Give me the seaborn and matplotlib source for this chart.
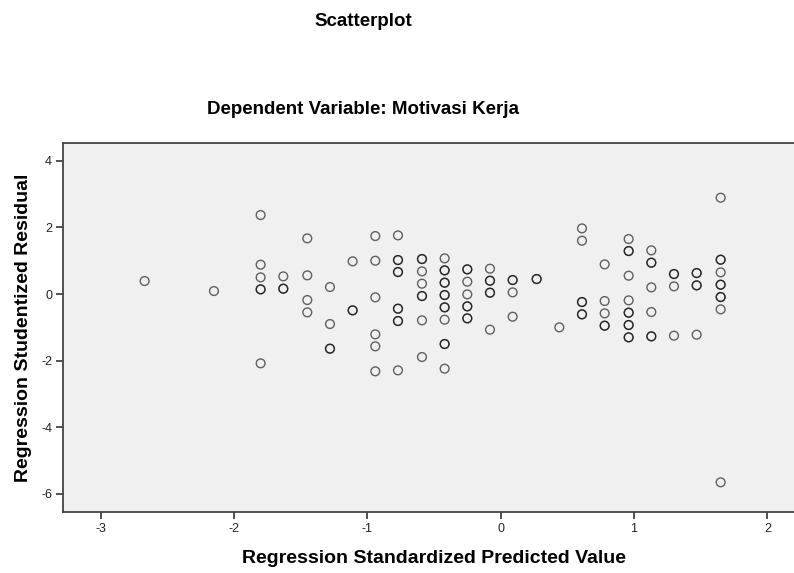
import matplotlib
matplotlib.use("Agg")
import matplotlib.pyplot as plt
import seaborn as sns
import pandas as pd

# Regression standardized predicted value (x) and studentized residual (y)
# repeated entries = overlapping cases (darker markers in the reference)
x_pred = [
    -2.67,
    -2.15,
    -1.80, -1.80, -1.80, -1.80, -1.80, -1.80,
    -1.63, -1.63, -1.63,
    -1.45, -1.45, -1.45, -1.45,
    -1.28, -1.28, -1.28, -1.28,
    -1.11, -1.11, -1.11,
    -0.94, -0.94, -0.94, -0.94, -0.94, -0.94,
    -0.77, -0.77, -0.77, -0.77, -0.77, -0.77, -0.77, -0.77, -0.77, -0.77,
    -0.59, -0.59, -0.59, -0.59, -0.59, -0.59, -0.59, -0.59,
    -0.42, -0.42, -0.42, -0.42, -0.42, -0.42, -0.42, -0.42, -0.42, -0.42, -0.42, -0.42, -0.42,
    -0.25, -0.25, -0.25, -0.25, -0.25, -0.25, -0.25, -0.25,
    -0.08, -0.08, -0.08, -0.08, -0.08, -0.08,
    0.09, 0.09, 0.09, 0.09,
    0.27, 0.27,
    0.44,
    0.61, 0.61, 0.61, 0.61, 0.61, 0.61,
    0.78, 0.78, 0.78, 0.78, 0.78,
    0.96, 0.96, 0.96, 0.96, 0.96, 0.96, 0.96, 0.96, 0.96, 0.96, 0.96,
    1.13, 1.13, 1.13, 1.13, 1.13, 1.13, 1.13,
    1.30, 1.30, 1.30, 1.30,
    1.47, 1.47, 1.47, 1.47, 1.47,
    1.65, 1.65, 1.65, 1.65, 1.65, 1.65, 1.65, 1.65, 1.65, 1.65,
]
y_resid = [
    0.39,
    0.09,
    2.37, 0.88, 0.50, 0.14, 0.14, -2.08,
    0.53, 0.16, 0.16,
    1.67, 0.56, -0.18, -0.55,
    0.21, -0.90, -1.64, -1.64,
    0.98, -0.49, -0.49,
    1.74, 1.00, -0.10, -1.21, -1.57, -2.32,
    1.76, 1.02, 1.02, 0.66, 0.66, -0.44, -0.44, -0.81, -0.81, -2.29,
    1.05, 1.05, 0.68, 0.31, -0.06, -0.06, -0.79, -1.89,
    1.07, 0.71, 0.71, 0.34, 0.34, -0.03, -0.03, -0.40, -0.40, -0.77, -1.50, -1.50, -2.24,
    0.74, 0.74, 0.37, -0.01, -0.37, -0.37, -0.73, -0.73,
    0.76, 0.40, 0.40, 0.04, 0.04, -1.07,
    0.42, 0.42, 0.05, -0.68,
    0.45, 0.45,
    -1.00,
    1.97, 1.60, -0.24, -0.24, -0.61, -0.61,
    0.89, -0.21, -0.58, -0.95, -0.95,
    1.65, 1.29, 1.29, 0.55, -0.19, -0.56, -0.56, -0.93, -0.93, -1.30, -1.30,
    1.31, 0.94, 0.94, 0.20, -0.54, -1.27, -1.27,
    0.60, 0.60, 0.23, -1.25,
    0.63, 0.63, 0.26, 0.26, -1.22,
    2.89, 1.03, 1.03, 0.65, 0.28, 0.28, -0.09, -0.09, -0.46, -5.65,
]

x_ticks = [-3, -2, -1, 0, 1, 2]
y_ticks = [-6, -4, -2, 0, 2, 4]

main_title = "Scatterplot"
sub_title = "Dependent Variable: Motivasi Kerja"
x_label = "Regression Standardized Predicted Value"
y_label = "Regression Studentized Residual"

df = pd.DataFrame({"x": x_pred, "y": y_resid})

sns.set_theme(style="ticks")
plt.rcParams["font.family"] = ["Liberation Sans", "DejaVu Sans"]

fig = plt.figure(figsize=(7.94, 5.73), dpi=100)
ax = fig.add_axes([0.0797, 0.1065, 0.9203, 0.6444])
ax.set_facecolor("#f0f0f0")

sns.scatterplot(data=df, x="x", y="y", ax=ax, marker="o", s=40,
                facecolor="none", edgecolor=(0, 0, 0, 0.6), linewidth=1.0,
                legend=False)

ax.set_xlim(-3.28, 2.2)
ax.set_ylim(-6.54, 4.54)
ax.set_xticks(x_ticks)
ax.set_yticks(y_ticks)
ax.set_xticklabels([str(t) for t in x_ticks])
ax.set_yticklabels([str(t) for t in y_ticks])
ax.tick_params(axis="both", direction="out", length=5, width=1.2,
               color="#333333", labelsize=9, labelcolor="#222222", pad=3)

for side in ["left", "bottom", "top"]:
    ax.spines[side].set_color("#444444")
    ax.spines[side].set_linewidth(1.3)
ax.spines["right"].set_visible(False)

ax.set_xlabel(x_label, fontsize=14, fontweight="bold", color="black")
ax.set_ylabel(y_label, fontsize=14, fontweight="bold", color="black")
ax.xaxis.set_label_coords(0.508, -0.104)
ax.yaxis.set_label_coords(-0.043, 0.5)

fig.text(363 / 794, 1 - 22 / 573, main_title, ha="center", va="center",
         fontsize=13.5, fontweight="bold", color="black")
fig.text(363 / 794, 1 - 110 / 573, sub_title, ha="center", va="center",
         fontsize=13.5, fontweight="bold", color="black")

fig.savefig("out.png", dpi=100, facecolor="white")
